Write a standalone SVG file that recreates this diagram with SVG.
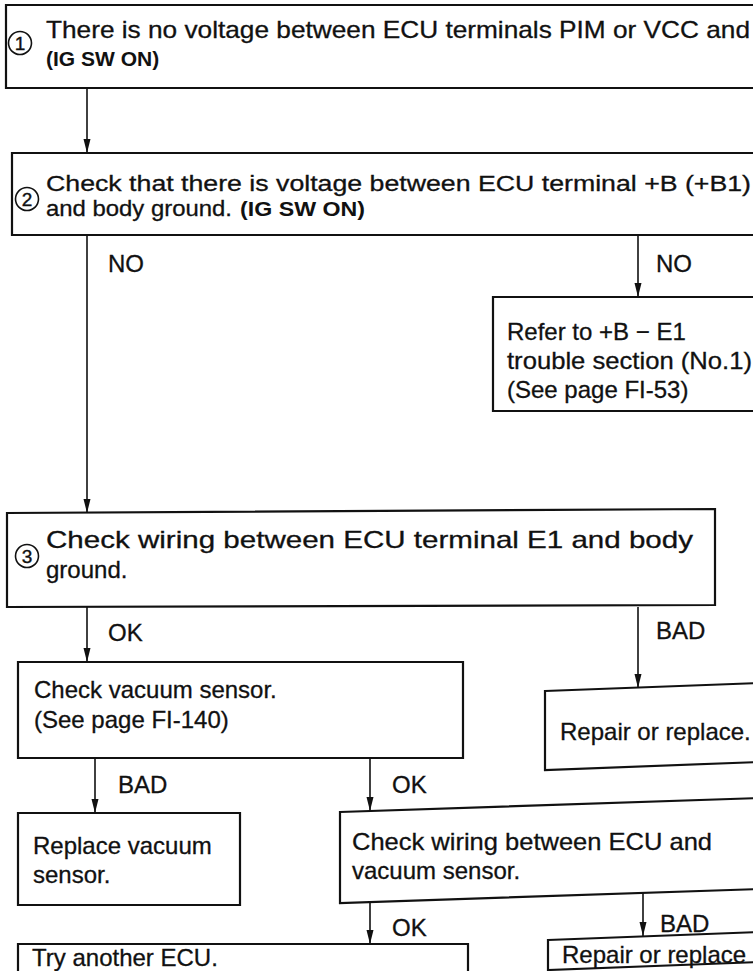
<svg xmlns="http://www.w3.org/2000/svg" width="753" height="971" viewBox="0 0 753 971">
  <style>
    .box { fill: #ffffff; stroke: #111111; stroke-width: 2.2; }
    .wire { fill: none; stroke: #111111; stroke-width: 1.6; }
    .t { font-family: "Liberation Sans", Arial, sans-serif; font-size: 24px; fill: #111111; stroke: #111111; stroke-width: 0.3; }
    .s { font-size: 22px; }
    .b { font-family: "Liberation Sans", Arial, sans-serif; font-size: 21px; font-weight: bold; fill: #111111; }
    .num { fill: none; stroke: #111111; stroke-width: 1.6; }
    .digit { font-family: "Liberation Sans", Arial, sans-serif; font-size: 19px; fill: #111111; stroke: #111111; stroke-width: 0.4; text-anchor: middle; }
  </style>
  <defs>
    <marker id="arrow" markerUnits="userSpaceOnUse" markerWidth="15" markerHeight="8" refX="14" refY="3.5" orient="auto">
      <path d="M0,0 L14,3.5 L0,7 Z" fill="#111111"/>
    </marker>
  </defs>
  <rect width="753" height="971" fill="#ffffff"/>

  <!-- step 1 -->
  <g id="step1">
    <path class="box" d="M6,5 H760 V88 H6 Z"/>
    <circle class="num" cx="20" cy="43" r="11.5"/>
    <text class="digit" x="20" y="50">1</text>
    <text class="t" x="46" y="38" textLength="704" lengthAdjust="spacingAndGlyphs">There is no voltage between ECU terminals PIM or VCC and</text>
    <text class="b" x="46" y="66">(IG SW ON)</text>
  </g>

  <!-- step 2 -->
  <g id="step2">
    <path class="box" d="M12,153 H760 V235 H12 Z"/>
    <circle class="num" cx="27" cy="199" r="11.5"/>
    <text class="digit" x="27" y="206">2</text>
    <text class="t s" x="46" y="191" textLength="705" lengthAdjust="spacingAndGlyphs">Check that there is voltage between ECU terminal +B (+B1)</text>
    <text class="t s" x="46" y="216" textLength="186" lengthAdjust="spacingAndGlyphs">and body ground.</text>
    <text class="b" x="240" y="216" textLength="125" lengthAdjust="spacingAndGlyphs">(IG SW ON)</text>
  </g>

  <!-- refer to +B - E1 -->
  <g id="refer">
    <path class="box" d="M493,297 H760 V411 H493 Z"/>
    <text class="t" x="507" y="340">Refer to +B − E1</text>
    <text class="t" x="507" y="369" textLength="245" lengthAdjust="spacingAndGlyphs">trouble section (No.1)</text>
    <text class="t" x="507" y="398">(See page FI-53)</text>
  </g>

  <!-- step 3 -->
  <g id="step3">
    <path class="box" d="M7,513 L715,509 L715,605 L7,607 Z"/>
    <circle class="num" cx="27" cy="556" r="11.5"/>
    <text class="digit" x="27" y="563">3</text>
    <text class="t" x="46" y="548" textLength="647" lengthAdjust="spacingAndGlyphs">Check wiring between ECU terminal E1 and body</text>
    <text class="t" x="46" y="578">ground.</text>
  </g>

  <!-- check vacuum sensor -->
  <g id="vacuum">
    <path class="box" d="M18,662 H463 V758 H18 Z"/>
    <text class="t" x="34" y="698">Check vacuum sensor.</text>
    <text class="t" x="34" y="728">(See page FI-140)</text>
  </g>

  <!-- repair (ground wiring) -->
  <g id="repair1">
    <path class="box" d="M545,691 L760,683 V762 L545,770 Z"/>
    <text class="t" x="560" y="740">Repair or replace.</text>
  </g>

  <!-- replace vacuum sensor -->
  <g id="replace">
    <path class="box" d="M18,813 H240 V905 H18 Z"/>
    <text class="t" x="33" y="854">Replace vacuum</text>
    <text class="t" x="33" y="883">sensor.</text>
  </g>

  <!-- check sensor wiring -->
  <g id="wiring">
    <path class="box" d="M340,812 L760,798 V889 L340,903 Z"/>
    <text class="t" x="352" y="850" textLength="360" lengthAdjust="spacingAndGlyphs">Check wiring between ECU and</text>
    <text class="t" x="352" y="879">vacuum sensor.</text>
  </g>

  <!-- try another ECU -->
  <g id="ecu">
    <path class="box" d="M18,944 H468 V980 H18 Z"/>
    <text class="t" x="32" y="966">Try another ECU.</text>
  </g>

  <!-- repair (sensor wiring) -->
  <g id="repair2">
    <path class="box" d="M548,940 L760,932 V962 L548,970 Z"/>
    <text class="t" x="562" y="963">Repair or replace</text>
  </g>

  <!-- connectors -->
  <g id="connectors">
    <path class="wire" d="M87,88 V153" marker-end="url(#arrow)"/>
    <path class="wire" d="M87,235 V513" marker-end="url(#arrow)"/>
    <path class="wire" d="M638,235 V297" marker-end="url(#arrow)"/>
    <path class="wire" d="M87,607 V662" marker-end="url(#arrow)"/>
    <path class="wire" d="M638,607 V688" marker-end="url(#arrow)"/>
    <path class="wire" d="M95,758 V813" marker-end="url(#arrow)"/>
    <path class="wire" d="M370,758 V811" marker-end="url(#arrow)"/>
    <path class="wire" d="M370,902 V944" marker-end="url(#arrow)"/>
    <path class="wire" d="M643,893 V936" marker-end="url(#arrow)"/>
    <text class="t" x="108" y="272">NO</text>
    <text class="t" x="656" y="272">NO</text>
    <text class="t" x="108" y="641">OK</text>
    <text class="t" x="656" y="639">BAD</text>
    <text class="t" x="118" y="793">BAD</text>
    <text class="t" x="392" y="793">OK</text>
    <text class="t" x="392" y="936">OK</text>
    <text class="t" x="660" y="932">BAD</text>
  </g>
</svg>
